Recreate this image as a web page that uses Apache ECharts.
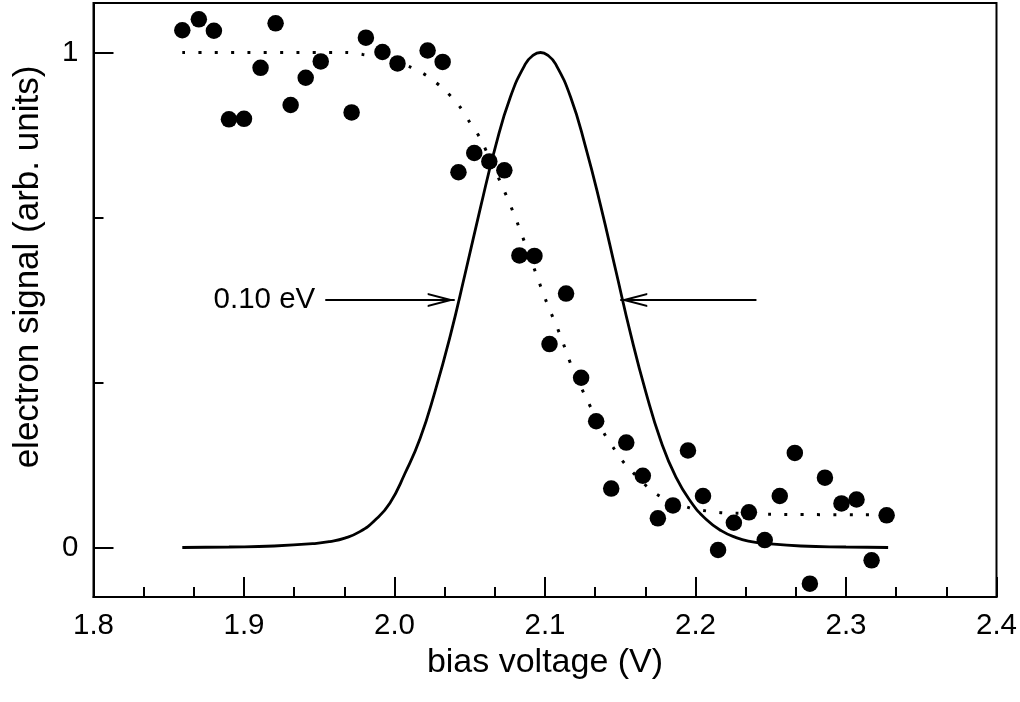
<!DOCTYPE html>
<html>
<head>
<meta charset="utf-8">
<script src="https://cdn.jsdelivr.net/npm/echarts@6/dist/echarts.min.js"></script>
<style>
html,body{margin:0;padding:0;background:#fff;}
#chart{width:1020px;height:702px;}
</style>
</head>
<body>
<div id="chart"></div>
<script>
// measured data points
const voltage = [1.859,1.870,1.880,1.890,1.900,1.911,1.921,1.931,1.941,1.951,1.9715,1.981,1.992,2.002,2.022,2.032,2.0425,2.053,2.063,2.073,2.083,2.093,2.103,2.114,2.124,2.134,2.144,2.154,2.165,2.175,2.185,2.195,2.205,2.215,2.2255,2.2355,2.246,2.256,2.266,2.276,2.286,2.297,2.307,2.317,2.327];
const signal  = [1.045,1.067,1.044,0.865,0.866,0.969,1.059,0.894,0.949,0.982,0.879,1.030,1.001,0.978,1.004,0.981,0.758,0.797,0.780,0.762,0.590,0.589,0.411,0.513,0.343,0.255,0.119,0.212,0.145,0.059,0.085,0.196,0.104,-0.005,0.050,0.071,0.015,0.104,0.191,-0.073,0.141,0.089,0.097,-0.026,0.065];
// step fit (dotted)
const stepX = [1.859,1.968,1.979,1.995,2.011,2.022,2.033,2.043,2.050,2.057,2.072,2.081,2.093,2.101,2.110,2.118,2.128,2.139,2.146,2.154,2.174,2.196,2.207,2.218,2.228,2.250,2.327];
const stepY = [1.000,1.000,0.996,0.988,0.970,0.952,0.925,0.892,0.859,0.826,0.727,0.661,0.562,0.496,0.430,0.364,0.298,0.232,0.199,0.166,0.108,0.080,0.074,0.070,0.069,0.067,0.066];
// peak curve (solid)
const peakX = [1.859,1.890,1.920,1.947,1.957,1.967,1.977,1.987,1.997,2.007,2.017,2.027,2.037,2.047,2.057,2.067,2.077,2.087,2.092,2.097,2.102,2.107,2.117,2.127,2.137,2.147,2.157,2.167,2.177,2.187,2.197,2.207,2.217,2.227,2.237,2.247,2.270,2.300,2.328];
const peakY = [0.000,0.001,0.003,0.008,0.012,0.019,0.032,0.055,0.090,0.150,0.220,0.316,0.427,0.554,0.685,0.809,0.910,0.977,0.994,1.000,0.994,0.977,0.910,0.809,0.690,0.560,0.430,0.314,0.215,0.142,0.092,0.057,0.034,0.020,0.012,0.008,0.003,0.001,0.000];
// width annotation: [tail x, tip x] at level arrowY
const arrowLeft = [1.954, 2.040];
const arrowRight = [2.2405, 2.150];
const arrowY = 0.5;
const widthLabel = '0.10 eV';
// axis ticks
const xMin = 1.8, xMax = 2.4, xStep = 0.1;
const yMin = -0.1, yMax = 1.1;
const yMajorTicks = [0, 1];
const yMinorTicks = [0.3333, 0.6667];

const FONT = 'Liberation Sans, Arial, sans-serif';
const zip = (a, b) => a.map((v, i) => [v, b[i]]);
const arrowHead = 'path://M7 0 M7 27 L14 54 L11.9 54 L7 35 L2.1 54 L0 54 Z';

const chart = echarts.init(document.getElementById('chart'), null, {renderer: 'canvas'});
chart.setOption({
  animation: false,
  backgroundColor: '#fff',
  grid: {left: 93.5, right: 23, top: 3, bottom: 105, show: true, borderColor: '#000', borderWidth: 2, backgroundColor: 'transparent'},
  xAxis: {
    type: 'value', min: xMin, max: xMax, interval: xStep,
    name: 'bias voltage (V)', nameLocation: 'middle', nameGap: 38,
    nameTextStyle: {fontFamily: FONT, fontSize: 34, color: '#000'},
    axisLine: {show: true, onZero: false, lineStyle: {color: '#000', width: 2}},
    axisTick: {show: true, inside: true, length: 20, lineStyle: {color: '#000', width: 2}},
    minorTick: {show: true, splitNumber: 3, length: 10, lineStyle: {color: '#000', width: 2}},
    axisLabel: {fontFamily: FONT, fontSize: 29.5, color: '#000', margin: 14, formatter: v => v.toFixed(1)},
    splitLine: {show: false}, minorSplitLine: {show: false}
  },
  yAxis: [{
    type: 'value', min: yMin, max: yMax,
    name: 'electron signal (arb. units)', nameLocation: 'middle', nameGap: 48,
    nameTextStyle: {fontFamily: FONT, fontSize: 35, color: '#000', padding: [0, 0, 0, 66]},
    axisLine: {show: true, onZero: false, lineStyle: {color: '#000', width: 2}},
    axisTick: {show: true, inside: true, length: 20, customValues: yMajorTicks, lineStyle: {color: '#000', width: 2}},
    axisLabel: {fontFamily: FONT, fontSize: 29.5, color: '#000', margin: 15, customValues: yMajorTicks, formatter: v => String(Math.round(v))},
    splitLine: {show: false}
  }, {
    type: 'value', min: yMin, max: yMax, position: 'left',
    axisLine: {show: false, onZero: false},
    axisTick: {show: true, inside: true, length: 10, customValues: yMinorTicks, lineStyle: {color: '#000', width: 2}},
    axisLabel: {show: false},
    splitLine: {show: false}
  }],
  series: [
    {
      type: 'line', data: zip(stepX, stepY), showSymbol: false, symbol: 'none',
      smooth: 0.3,
      lineStyle: {color: '#000', width: 3, type: [3, 13.3]}, z: 2
    },
    {
      type: 'line', data: zip(peakX, peakY), showSymbol: false, symbol: 'none',
      smooth: 0.5,
      lineStyle: {color: '#000', width: 2.8}, z: 3,
      markLine: {
        silent: true, animation: false,
        symbol: ['none', arrowHead], symbolSize: [14, 54],
        lineStyle: {color: '#000', width: 2, type: 'solid'},
        label: {show: false},
        data: [
          [{coord: [arrowLeft[0], arrowY], label: {show: true, position: 'start', formatter: widthLabel, fontFamily: FONT, fontSize: 29.5, color: '#000', distance: 10}},
           {coord: [arrowLeft[1], arrowY]}],
          [{coord: [arrowRight[0], arrowY]}, {coord: [arrowRight[1], arrowY]}]
        ]
      }
    },
    {
      type: 'scatter', data: zip(voltage, signal), symbol: 'circle', symbolSize: 16.5,
      itemStyle: {color: '#000', opacity: 1}, z: 5
    }
  ]
});
</script>
</body>
</html>
